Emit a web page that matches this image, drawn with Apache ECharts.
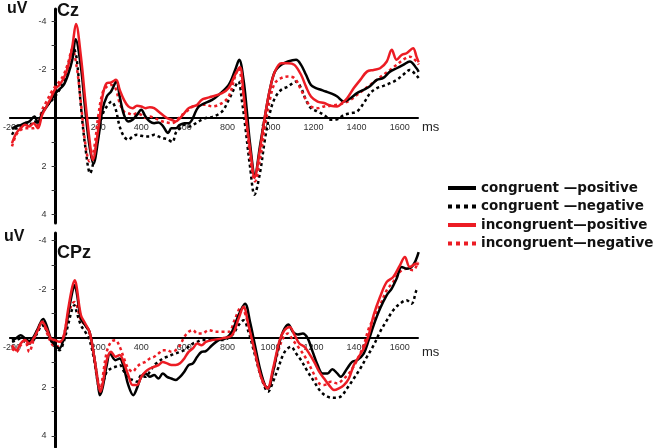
<!DOCTYPE html>
<html><head><meta charset="utf-8">
<script src="https://cdn.jsdelivr.net/npm/echarts@6/dist/echarts.min.js"></script>
<style>html,body{margin:0;padding:0;background:#fff}#c{width:660px;height:448px}</style>
</head><body><div id="c"></div>
<script>
var seriesNames = ['congruent \u2014positive', 'congruent \u2014negative', 'incongruent\u2014positive', 'incongruent\u2014negative'];
var xTickLabels = [-200, 200, 400, 600, 800, 1000, 1200, 1400, 1600];
var yTickLabels = [-4, -2, 2, 4];
var yMinorTicks = [-4, -3, -2, -1, 1, 2, 3, 4];

// Cz : [time ms, amplitude uV]
var czConPos = [[-200,0.45],[-180,0.35],[-160,0.3],[-140,0.22],[-120,0.15],[-96,-0.05],[-80,0.2],[-60,-0.2],[-40,-0.45],[-20,-0.7],[0,-1.0],[20,-1.18],[40,-1.36],[60,-1.78],[80,-2.4],[95,-3.25],[120,-2.1],[140,-0.33],[160,1.18],[178,1.9],[200,0.9],[220,-0.33],[240,-0.88],[260,-1.09],[285,-1.5],[300,-0.88],[320,-0.12],[340,0.15],[360,0.08],[380,-0.12],[400,-0.33],[420,-0.05],[440,0.15],[460,0.22],[480,0.19],[500,0.33],[525,0.63],[540,0.43],[560,0.43],[580,0.29],[600,0.22],[620,0.22],[668,-0.47],[729,-0.74],[760,-0.95],[806,-1.36],[836,-1.98],[855,-2.4],[875,-1.57],[890,-0.33],[905,1.05],[928,2.36],[951,1.18],[974,-0.05],[997,-1.16],[1020,-1.9],[1050,-2.19],[1081,-2.33],[1119,-2.4],[1142,-2.19],[1165,-1.78],[1188,-1.36],[1211,-1.23],[1234,-1.16],[1257,-1.09],[1287,-0.99],[1310,-0.88],[1341,-0.67],[1371,-0.81],[1402,-1.02],[1433,-1.16],[1463,-1.32],[1494,-1.57],[1524,-1.65],[1555,-1.91],[1586,-2.05],[1616,-2.19],[1647,-2.33],[1678,-2.05],[1688,-1.9]];
var czConNeg = [[-200,0.7],[-180,0.43],[-160,0.36],[-140,0.22],[-120,0.33],[-100,0.15],[-80,0.22],[-60,-0.19],[-40,-0.47],[-20,-0.67],[0,-0.88],[20,-1.16],[40,-1.5],[60,-2.12],[85,-2.88],[100,-2.47],[120,-0.47],[140,1.18],[163,2.29],[180,1.74],[200,0.7],[220,-0.12],[240,-0.47],[262,-0.67],[280,-0.4],[300,0.36],[320,0.77],[340,0.91],[360,0.77],[380,0.7],[400,0.74],[420,0.77],[440,0.77],[460,0.7],[480,0.77],[500,0.84],[520,0.88],[545,1.0],[560,0.63],[580,0.43],[600,0.29],[620,0.36],[640,0.29],[660,0.19],[680,0.08],[700,0.01],[729,-0.03],[775,-0.26],[806,-0.74],[836,-1.29],[851,-1.5],[867,-0.74],[883,0.36],[905,2.01],[926,3.18],[951,2.29],[974,0.91],[997,-0.19],[1020,-0.81],[1050,-1.16],[1081,-1.29],[1119,-1.5],[1142,-1.23],[1165,-0.74],[1188,-0.4],[1219,-0.26],[1249,-0.12],[1280,0.08],[1310,0.06],[1341,-0.12],[1371,-0.19],[1402,-0.26],[1433,-0.61],[1463,-1.02],[1494,-1.23],[1524,-1.32],[1555,-1.43],[1586,-1.57],[1616,-1.78],[1647,-1.98],[1678,-1.75],[1688,-1.65]];
var czIncPos = [[-200,1.05],[-180,0.63],[-160,0.43],[-140,0.29],[-120,0.36],[-100,0.22],[-80,0.43],[-60,-0.12],[-40,-0.47],[-20,-0.81],[0,-1.18],[20,-1.36],[40,-1.64],[60,-2.12],[80,-2.95],[97,-3.88],[120,-2.53],[140,-0.74],[160,0.91],[175,1.74],[200,0.5],[220,-0.88],[240,-1.43],[260,-1.46],[283,-1.57],[300,-1.16],[320,-0.74],[340,-0.47],[360,-0.4],[380,-0.5],[400,-0.47],[420,-0.4],[440,-0.44],[460,-0.4],[480,-0.26],[500,-0.12],[520,0.01],[540,0.08],[560,0.15],[580,0.01],[600,-0.19],[620,-0.4],[640,-0.47],[660,-0.54],[680,-0.74],[700,-0.81],[729,-0.88],[775,-1.02],[806,-1.23],[836,-1.78],[858,-2.1],[875,-1.02],[890,0.22],[912,1.74],[925,2.49],[951,1.32],[974,-0.05],[997,-1.16],[1020,-1.9],[1050,-2.26],[1081,-2.26],[1111,-2.19],[1142,-1.78],[1165,-1.29],[1188,-0.88],[1219,-0.67],[1249,-0.61],[1280,-0.5],[1310,-0.47],[1333,-0.61],[1356,-0.81],[1387,-1.23],[1417,-1.57],[1448,-1.91],[1479,-1.98],[1509,-2.05],[1540,-2.33],[1563,-2.81],[1586,-2.4],[1609,-2.6],[1632,-2.67],[1662,-2.88],[1678,-2.53],[1688,-2.3]];
var czIncNeg = [[-200,1.18],[-180,0.7],[-160,0.5],[-140,0.43],[-120,0.43],[-100,0.43],[-80,0.29],[-60,-0.33],[-40,-0.67],[-20,-1.02],[0,-1.29],[20,-1.5],[40,-1.78],[60,-2.26],[80,-2.85],[100,-2.12],[120,-0.61],[140,1.05],[160,1.8],[180,1.32],[200,-0.05],[220,-1.02],[240,-1.29],[260,-1.36],[280,-1.23],[300,-0.61],[320,-0.26],[340,-0.19],[360,-0.12],[380,-0.19],[400,-0.12],[420,0.01],[440,-0.05],[460,0.01],[480,0.08],[500,0.15],[520,0.19],[540,0.22],[560,0.15],[580,-0.05],[600,-0.19],[620,-0.33],[640,-0.47],[660,-0.5],[680,-0.54],[700,-0.54],[729,-0.47],[775,-0.61],[806,-0.88],[836,-1.71],[851,-2.05],[875,-0.88],[890,0.36],[912,2.01],[928,2.63],[951,1.74],[974,0.36],[997,-0.74],[1020,-1.43],[1050,-1.64],[1081,-1.71],[1111,-1.64],[1142,-1.16],[1165,-0.74],[1188,-0.47],[1219,-0.4],[1249,-0.47],[1280,-0.5],[1310,-0.54],[1341,-0.61],[1371,-0.74],[1402,-0.95],[1433,-1.16],[1463,-1.36],[1494,-1.57],[1524,-1.78],[1555,-1.98],[1586,-2.19],[1616,-2.4],[1647,-2.53],[1678,-2.33],[1688,-2.2]];

// CPz : [time ms, amplitude uV]
var cpzConPos = [[-200,0.08],[-180,0],[-160,-0.12],[-140,0.01],[-120,0.12],[-100,-0.05],[-80,-0.39],[-55,-0.78],[-40,-0.53],[-20,0.01],[0,0.29],[20,0.42],[40,0.01],[60,-0.94],[80,-1.89],[90,-2.16],[100,-1.89],[120,-0.8],[140,-0.53],[160,-0.26],[180,0.69],[200,1.92],[208,2.33],[220,2.05],[240,1.1],[255,0.62],[280,0.9],[300,0.83],[320,1.24],[340,1.92],[363,2.33],[380,2.05],[400,1.58],[420,1.44],[440,1.58],[460,1.51],[480,1.65],[500,1.44],[520,1.58],[540,1.65],[560,1.71],[580,1.58],[600,1.37],[620,1.1],[640,1.03],[660,0.76],[680,0.56],[700,0.53],[729,0.29],[760,0.08],[791,0.01],[821,-0.26],[852,-0.94],[882,-1.41],[905,-0.67],[928,0.29],[951,1.24],[974,1.92],[989,2.05],[1012,1.37],[1035,0.42],[1058,-0.26],[1083,-0.56],[1104,-0.26],[1127,-0.15],[1150,-0.19],[1173,0.01],[1196,0.56],[1219,1.1],[1242,1.44],[1265,1.44],[1287,1.27],[1310,1.44],[1326,1.58],[1356,1.24],[1379,0.97],[1402,0.9],[1433,0.63],[1456,0.08],[1479,-0.53],[1509,-1.21],[1540,-1.76],[1563,-2.03],[1586,-2.44],[1609,-2.91],[1632,-2.84],[1662,-2.98],[1688,-3.52]];
var cpzConNeg = [[-200,0.15],[-180,0.08],[-160,0.01],[-140,0.15],[-120,0.22],[-100,0.08],[-80,-0.26],[-60,-0.53],[-40,-0.33],[-20,0.08],[0,0.35],[20,0.49],[40,0.15],[60,-0.53],[80,-1.21],[90,-1.35],[100,-1.07],[120,-0.53],[140,-0.26],[160,0.08],[180,0.83],[200,1.92],[210,2.26],[220,1.92],[240,1.37],[260,1.24],[280,1.17],[300,1.1],[320,1.37],[340,1.65],[360,1.71],[380,1.78],[400,1.51],[420,1.58],[440,1.37],[460,1.1],[480,0.97],[500,0.83],[520,0.76],[540,0.69],[560,0.63],[580,0.56],[600,0.49],[620,0.35],[640,0.22],[660,0.15],[680,0.08],[700,0.08],[729,0.08],[775,0.08],[821,-0.12],[852,-0.53],[875,-0.73],[898,-0.26],[928,0.69],[959,1.65],[989,2.19],[1012,1.78],[1035,1.24],[1066,0.56],[1096,0.35],[1119,0.63],[1142,0.9],[1173,1.37],[1203,1.78],[1234,2.19],[1265,2.39],[1295,2.44],[1326,2.39],[1356,2.05],[1387,1.65],[1417,1.24],[1448,0.76],[1479,0.29],[1509,-0.26],[1540,-0.73],[1570,-1.14],[1601,-1.41],[1632,-1.55],[1655,-1.41],[1678,-1.96],[1688,-2.05]];
var cpzIncPos = [[-200,0.29],[-180,0.49],[-160,0.22],[-140,0.08],[-120,0.22],[-100,0.01],[-80,-0.33],[-60,-0.67],[-40,-0.39],[-20,0.01],[0,0.08],[20,0.15],[40,-0.05],[60,-1.14],[80,-2.1],[92,-2.37],[100,-2.1],[120,-0.94],[140,-0.6],[160,-0.26],[180,0.69],[200,1.85],[210,2.19],[220,1.92],[240,0.9],[260,0.56],[280,0.76],[300,0.69],[320,1.03],[340,1.51],[360,1.92],[380,1.92],[400,1.58],[420,1.37],[440,1.24],[460,1.17],[480,1.1],[500,0.97],[520,1.03],[540,1.1],[560,1.1],[580,1.03],[600,0.83],[620,0.56],[640,0.42],[660,0.22],[680,0.29],[700,0.15],[729,0.08],[775,0.01],[821,-0.12],[852,-0.8],[875,-1.28],[898,-0.53],[928,0.56],[959,1.65],[986,2.05],[1012,1.24],[1043,0.08],[1066,-0.33],[1089,-0.46],[1112,-0.12],[1134,0.22],[1157,0.35],[1180,0.63],[1203,0.97],[1226,1.37],[1249,1.65],[1272,1.92],[1295,2.12],[1318,2.05],[1341,1.92],[1364,1.65],[1387,1.1],[1410,0.76],[1433,0.42],[1456,-0.12],[1479,-0.94],[1509,-1.69],[1540,-2.3],[1570,-2.5],[1601,-2.98],[1624,-3.32],[1647,-2.91],[1678,-3.05],[1688,-3.0]];
var cpzIncNeg = [[-200,0.42],[-180,0.56],[-160,0.29],[-140,0.08],[-120,0.56],[-100,0.08],[-80,-0.39],[-60,-0.67],[-40,-0.26],[-20,0.15],[0,0.35],[20,0.29],[40,-0.12],[60,-0.94],[80,-1.41],[90,-1.48],[100,-1.35],[120,-0.73],[140,-0.53],[160,-0.19],[180,0.69],[200,1.78],[210,2.19],[220,1.65],[240,0.56],[260,0.15],[280,0.08],[300,0.35],[320,0.83],[340,1.24],[360,1.37],[380,1.17],[400,1.03],[420,0.97],[440,0.83],[460,0.76],[480,0.63],[500,0.49],[520,0.49],[540,0.56],[560,0.49],[580,0.29],[600,-0.05],[620,-0.26],[640,-0.33],[660,-0.19],[683,-0.19],[714,-0.33],[745,-0.26],[775,-0.26],[806,-0.26],[836,-0.8],[864,-1.28],[890,-0.8],[913,0.01],[943,1.1],[974,1.92],[989,2.05],[1012,1.37],[1035,0.56],[1058,0.01],[1081,-0.19],[1104,0.08],[1134,0.42],[1165,0.83],[1196,1.37],[1226,1.85],[1249,1.92],[1280,1.78],[1310,1.85],[1341,1.65],[1371,1.37],[1402,0.9],[1433,0.29],[1456,-0.39],[1479,-0.8],[1509,-1.35],[1540,-1.96],[1570,-2.3],[1601,-2.71],[1632,-2.84],[1662,-2.78],[1685,-3.12]];

var BLACK = '#000000', RED = '#ec1c24';
var DOT = [3, 3];
var styles = [
  {color: BLACK, type: 'solid'},
  {color: BLACK, type: DOT},
  {color: RED, type: 'solid'},
  {color: RED, type: DOT}
];
var czData = [czConPos, czConNeg, czIncPos, czIncNeg];
var cpzData = [cpzConPos, cpzConNeg, cpzIncPos, cpzIncNeg];

var X_MIN = -210, X_MAX = 1685;
var grids = [
  {left: 5, top: 9, width: 413, height: 214, yMin: -4.5, yMax: 4.35},
  {left: 5, top: 233, width: 413, height: 214, yMin: -4.3, yMax: 4.45}
];
function plain(v) { return String(v); }

function xAxisFor(gi) {
  var g = grids[gi];
  var zeroFromBottom = g.height * (g.yMax - 0) / (g.yMax - g.yMin);
  return {
    type: 'value', gridIndex: gi, min: X_MIN, max: X_MAX, position: 'bottom',
    offset: -zeroFromBottom,
    axisLine: {onZero: false, lineStyle: {color: '#000', width: 2}},
    axisTick: {show: false},
    splitLine: {show: false},
    axisLabel: {customValues: xTickLabels, formatter: plain, fontSize: 9, color: '#333', margin: 5, fontFamily: 'Liberation Sans'}
  };
}
function yAxisFor(gi) {
  var g = grids[gi];
  var zeroFromLeft = g.width * (0 - X_MIN) / (X_MAX - X_MIN);
  return {
    type: 'value', gridIndex: gi, inverse: true, min: g.yMin, max: g.yMax, position: 'left',
    offset: -zeroFromLeft,
    axisLine: {show: true, onZero: false, lineStyle: {color: '#000', width: 3}},
    axisTick: {show: true, customValues: yMinorTicks, length: 4, lineStyle: {color: '#333', width: 1}},
    splitLine: {show: false},
    axisLabel: {customValues: yTickLabels, formatter: plain, fontSize: 9, color: '#333', margin: 9, fontFamily: 'Liberation Sans'}
  };
}

var series = [];
[czData, cpzData].forEach(function (set, gi) {
  var order = [1, 3, 0, 2];
  order.forEach(function (k) {
    series.push({
      type: 'line', name: seriesNames[k], xAxisIndex: gi, yAxisIndex: gi,
      data: set[k], symbol: 'none', smooth: 0.35, silent: true,
      lineStyle: {color: styles[k].color, width: 2.5, type: styles[k].type},
      itemStyle: {color: styles[k].color}
    });
  });
});

var chart = echarts.init(document.getElementById('c'), null, {renderer: 'canvas'});
chart.setOption({
  animation: false,
  backgroundColor: '#fff',
  grid: grids.map(function (g) { return {left: g.left, top: g.top, width: g.width, height: g.height}; }),
  xAxis: [xAxisFor(0), xAxisFor(1)],
  yAxis: [yAxisFor(0), yAxisFor(1)],
  legend: {
    orient: 'vertical', left: 446, top: 181, padding: 0, itemWidth: 28, itemHeight: 14, itemGap: 4.5,
    selectedMode: false,
    itemStyle: {opacity: 0},
    textStyle: {fontFamily: 'DejaVu Sans', fontWeight: 'bold', fontSize: 13.5, color: '#111'},
    data: seriesNames.map(function (n, k) {
      return {name: n, lineStyle: {width: 4, color: styles[k].color, type: k % 2 ? [4, 4] : 'solid'}};
    })
  },
  graphic: [
    {type: 'text', left: 7, top: 1, style: {text: 'uV', font: 'bold 16px "Liberation Sans"', fill: '#111'}},
    {type: 'text', left: 57, top: 2, style: {text: 'Cz', font: 'bold 18px "Liberation Sans"', fill: '#111'}},
    {type: 'text', left: 4, top: 229, style: {text: 'uV', font: 'bold 16px "Liberation Sans"', fill: '#111'}},
    {type: 'text', left: 57, top: 244, style: {text: 'CPz', font: 'bold 18px "Liberation Sans"', fill: '#111'}},
    {type: 'text', left: 422, top: 121, style: {text: 'ms', font: '13px "Liberation Sans"', fill: '#222'}},
    {type: 'text', left: 422, top: 346, style: {text: 'ms', font: '13px "Liberation Sans"', fill: '#222'}}
  ],
  series: series
});
</script>
</body></html>
